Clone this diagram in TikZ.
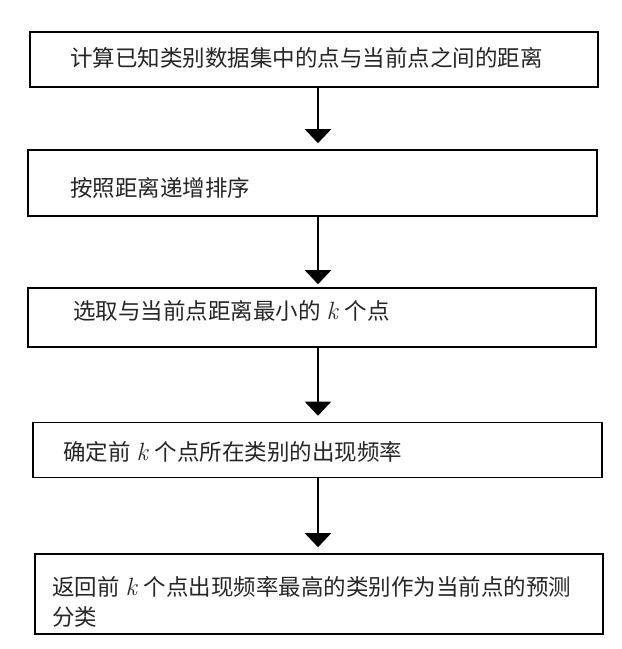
\documentclass[tikz,border=0pt]{standalone}
\usepackage{fontspec}
\newfontfamily\cjk{Noto Sans CJK SC}
\newfontfamily\kfont{Latin Modern Roman}
\newcommand{\kk}{\hspace{6pt}{\kfont\itshape\fontsize{25}{30}\selectfont k}\hspace{7pt}}
\usetikzlibrary{arrows.meta}
\tikzset{
  box/.style={draw=black, line width=1.6pt, fill=white, rectangle, inner sep=0pt},
  lbl/.style={font=\cjk\fontsize{22.5}{30}\selectfont, anchor=west, inner sep=0pt, align=left, text=black!85},
  arr/.style={draw=black, line width=2pt, -{Triangle[width=26pt,length=14pt]}, shorten >=6pt}
}
\begin{document}
\begin{tikzpicture}[x=1pt,y=-1pt]
\useasboundingbox (0,0) rectangle (622,649);
\coordinate (ax) at (318,0);
\node[box, minimum width=568pt, minimum height=55pt] (b1) at (314,59.5) {};
\node[lbl] (t1) at (70,58) {计算已知类别数据集中的点与当前点之间的距离};
\node[box, minimum width=569pt, minimum height=66pt] (b2) at (312.5,183) {};
\node[lbl] (t2) at (70,188) {按照距离递增排序};
\node[box, minimum width=568pt, minimum height=59pt] (b3) at (312,317.5) {};
\node[lbl] (t3) at (73,311) {选取与当前点距离最小的\kk 个点};
\node[box, minimum width=569pt, minimum height=55pt] (b4) at (317.5,450) {};
\node[lbl] (t4) at (63,452) {确定前\kk 个点所在类别的出现频率};
\node[box, minimum width=568pt, minimum height=80pt] (b5) at (319,594) {};
\node[lbl] (t5) at (52,602) {返回前\kk 个点出现频率最高的类别作为当前点的预测\\分类};
\draw[arr] (b1.south -| ax) -- (b2.north -| ax);
\draw[arr, shorten >=3pt] (b2.south -| ax) -- (b3.north -| ax);
\draw[arr] (b3.south -| ax) -- (b4.north -| ax);
\draw[arr] (b4.south -| ax) -- (b5.north -| ax);
\end{tikzpicture}
\end{document}
